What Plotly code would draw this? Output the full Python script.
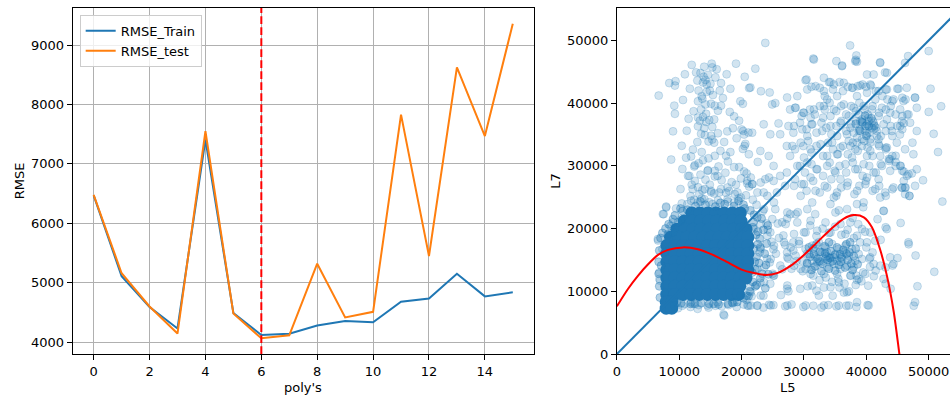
import plotly.graph_objects as go

# ---------------- left panel: RMSE vs polynomial degree ----------------
poly_degree = [0, 1, 2, 3, 4, 5, 6, 7, 8, 9, 10, 11, 12, 13, 14, 15]
rmse_train = [6470, 5110, 4590, 4230, 7410, 4490, 4120, 4140, 4280, 4355, 4335, 4680, 4735, 5150, 4770, 4840]
rmse_test = [6480, 5160, 4600, 4145, 7550, 4480, 4065, 4115, 5320, 4415, 4510, 7830, 5450, 8625, 7470, 9360]
best_degree = 6

left_x_ticks = [0, 2, 4, 6, 8, 10, 12, 14]
left_y_ticks = [4000, 5000, 6000, 7000, 8000, 9000]

# ---------------- right panel: L5 vs L7 ----------------
right_ticks = [0, 10000, 20000, 30000, 40000, 50000]
right_tick_text = ["0", "10000", "20000", "30000", "40000", "50000"]

# scattered observations (L5, L7)
sparse_points = [
    # upper left spread
    (6700, 41200), (9400, 43500), (9300, 42800), (9200, 39600), (9300, 38300), (11500, 37500),
    (12700, 44900), (13900, 44200), (14200, 43700), (13800, 43300), (14400, 43000), (15000, 43100),
    (15200, 46300), (15300, 45700), (16000, 45400), (16700, 43200), (13100, 42000), (13600, 41100),
    (13700, 40700), (14900, 42000), (16500, 42000), (15100, 39900), (15700, 39600), (16700, 39600),
    (13500, 39000), (14300, 38300), (13800, 37800), (13000, 37700), (13300, 37200), (14300, 37000),
    (14800, 37300), (15600, 37400), (13000, 36300), (14100, 34900), (15100, 34800), (15300, 34200),
    (14700, 33900), (15600, 33700), (12900, 33800), (11100, 31300), (11900, 31500), (12500, 30100),
    (13100, 30400), (12400, 29900), (11400, 28400), (14600, 29300), (15700, 29200), (16300, 29900),
    (15700, 28300), (15700, 31600), (17700, 35500), (18600, 36000), (20000, 35800), (20400, 35000),
    (20600, 33500), (20200, 32700), (21100, 35300), (17500, 31600), (17800, 30700), (18200, 32200),
    (18800, 29800), (19600, 29800), (20400, 29100), (20800, 28800), (19100, 46300), (20500, 44200),
    (21200, 42400), (19800, 40300), (20200, 39900), (18800, 37900),
    (13400, 44800), (14600, 44500), (14000, 45800), (12900, 43600), (15800, 44100), (14400, 41800),
    (15400, 41300), (13000, 40300), (14200, 39800), (16200, 38800), (12300, 38700), (14000, 36000),
    (15300, 36200), (13500, 35100), (16200, 35200), (12200, 32600), (13600, 32200), (14700, 31200),
    (16600, 32400), (13800, 30900), (12000, 27000), (13400, 28600), (14200, 27800), (16800, 27700),
    (17400, 28900), (18400, 27400), (19900, 28000), (10500, 29500), (10200, 26300), (9000, 35500),
    (10400, 33200), (11200, 35600), (8700, 31000), (17200, 33800), (19200, 34400), (18100, 38600),
    (19600, 37200), (17000, 40800), (18200, 42300), (17600, 44600), (10600, 40500), (11700, 42300),
    (10900, 44600), (8400, 43200), (12000, 46100),
    # fringe around the main cluster
    (12500, 27600), (13000, 26600), (13700, 26100), (14100, 26300), (14900, 27000), (15100, 25800),
    (15600, 25600), (16700, 26300), (17500, 25700), (18000, 26000), (19100, 27000), (20900, 27200),
    (21200, 26700), (11800, 25200), (12400, 24600), (13600, 24800), (16200, 24500), (17800, 24300),
    (19500, 24800), (20700, 25300), (10400, 24000), (11300, 23900), (18900, 25500), (14800, 24200),
    (9500, 23200), (7900, 23500), (7500, 22300), (6600, 18100), (8200, 19000), (9000, 19400),
    (9800, 21000), (10300, 21500), (7300, 16700), (7100, 14100), (6900, 11700), (6800, 13000),
    (8600, 20400), (22400, 23800), (21800, 24600),
    (11620, 28400), (14550, 29200), (16150, 28400), (21470, 28140), (21730, 27080), (23060, 27340),
    (24390, 28140), (12150, 26280), (13220, 25490), (15080, 26020), (16410, 25750), (17740, 26550),
    (19340, 25750), (11890, 24430), (12950, 24160), (14020, 24690), (15350, 23900), (17740, 24690),
    (18810, 24160), (19870, 24950), (7900, 23370), (7370, 22310), (8960, 20980), (10290, 21250),
    (6570, 18330), (8170, 19120), (22530, 25750), (24130, 25220), (25190, 24160), (23590, 23100),
    (24920, 21510), (23060, 20710), (21990, 19920), (24130, 18860), (25190, 17270), (23060, 16740),
    (24660, 15150), (22530, 13560), (25190, 12500), (23590, 11440), (21470, 9850), (19870, 9320),
    (23060, 9320), (24660, 7730), (21470, 7730), (17210, 6140), (18810, 8260), (16150, 8260),
    (14550, 7730), (11890, 8260), (7630, 16210), (7100, 14090), (6840, 11970), (7630, 9850),
    (9230, 7730), (10830, 7990), (12950, 7200), (20940, 7730), (22530, 7730), (24390, 7840),
    (10500, 7700), (11800, 7500), (13100, 7800), (14700, 7400), (15800, 7700), (16800, 7600),
    (17900, 7800), (19200, 7500), (20300, 7900), (21100, 7700), (17100, 6300), (9800, 7300),
    (12200, 8000), (18600, 8100), (21600, 9200), (20800, 8600),
    # between the two lower clusters
    (25400, 23100), (26500, 21000), (27800, 22300), (24600, 19400), (26700, 18900), (28300, 17800),
    (25100, 16700), (27300, 16200), (24100, 15200), (26200, 14100), (28000, 13600), (25100, 12500),
    (23000, 11400), (21400, 10700), (23500, 9300), (24600, 11200), (27300, 10400), (23400, 22800),
    (24000, 20800), (23600, 13800), (22900, 16200), (24800, 17900),
    # bottom row
    (22500, 7700), (23500, 7400), (25100, 7800), (27000, 7600), (28000, 7900), (29900, 7500),
    (31500, 7700), (32800, 7400), (33900, 7800), (35200, 7600), (36800, 7700), (38400, 7500),
    (40200, 7800), (47600, 7700),
    # middle cluster
    (28300, 16500), (28800, 14800), (29200, 18000), (29800, 13200), (30000, 19400), (30500, 16000),
    (31000, 20500), (31500, 12500), (32000, 18800), (32500, 11800), (33000, 20000), (33500, 12200),
    (34000, 19300), (34500, 11500), (35000, 20300), (35500, 12000), (36000, 19000), (36500, 11200),
    (37000, 19800), (37500, 12500), (38000, 18500), (38500, 11800), (39000, 17800), (39500, 13000),
    (40000, 17000), (40500, 15200), (41000, 16200), (40600, 13900), (41200, 12400), (39800, 19500),
    (38700, 20700), (27500, 15200), (27000, 17400), (26500, 13500), (26000, 18500), (25500, 16000),
    (25000, 12800), (24500, 14600), (24200, 19800), (25800, 20800), (27300, 21600), (29000, 22600),
    (31800, 22300), (35600, 22900), (37800, 21700), (39500, 23400), (30600, 10800), (32000, 10100),
    (33200, 10600), (34600, 9300), (35700, 10600), (36400, 9800), (37200, 10000), (38300, 11000),
    (29400, 10400), (27500, 10000), (26300, 9400), (38400, 12500), (39200, 11600), (40300, 10900),
    (27330, 22570), (28660, 22300), (30530, 23100), (31320, 24160), (34250, 23900), (35050, 22570),
    (36910, 23100), (38510, 23900), (39570, 24160), (27070, 20710), (28930, 20980), (31060, 21250),
    (33450, 20980), (35850, 20710), (37440, 20980), (39300, 19920), (40630, 19390), (28400, 19130),
    (30260, 19390), (32120, 19660), (34250, 19390), (36640, 19130), (38510, 18860), (40100, 17800),
    (41430, 18060), (42760, 22840), (43290, 19920),
    (26800, 17800), (27870, 17000), (29200, 17540), (30260, 16740), (31320, 17270), (32390, 17800),
    (33450, 17000), (34520, 17540), (35580, 16740), (36640, 17270), (37710, 16740), (38770, 15950),
    (27330, 15410), (28660, 15680), (29730, 14880), (30790, 15950), (31860, 15410), (32920, 16210),
    (33980, 15410), (35050, 15950), (36110, 15150), (37180, 15680), (38240, 14880), (39300, 15150),
    (28400, 14090), (29460, 13560), (30530, 14360), (31590, 13820), (32650, 14620), (33720, 13820),
    (34780, 14360), (35850, 13560), (36910, 14090), (37970, 13820), (31060, 12770), (33190, 12770),
    (35310, 12770), (37440, 12500), (32390, 16210), (34250, 14620), (33450, 15150), (32120, 14620),
    (35310, 14880), (36380, 16210), (31320, 14880), (30260, 13560), (33720, 16210), (34780, 15410),
    (27330, 10910), (31320, 10910), (34250, 10650), (35580, 11440), (36910, 9850), (38770, 11970),
    (39840, 12770), (41170, 14360), (42230, 14090), (43830, 15410), (27330, 7730), (30260, 7730),
    (32390, 9320), (33190, 7730), (35580, 7730), (37180, 7730), (38510, 8260), (40370, 7730),
    (44360, 14360), (46750, 17800), (47820, 8260), (42760, 11970), (40630, 15410),
    # right side
    (42800, 22800), (45500, 20900), (43100, 20200), (46800, 17500), (47900, 15700), (45000, 15300),
    (44200, 14100), (43100, 13800), (41500, 13300), (50900, 13100), (48200, 10800), (43900, 10400),
    (43100, 11200), (52200, 24300), (41800, 21500), (42300, 18200),
    # upper right cluster and surroundings
    (23800, 49600), (31500, 47100), (37400, 49200), (38400, 47600), (38300, 46900), (38500, 46600),
    (35200, 46700), (36100, 45900), (42200, 46500), (46700, 47500), (50000, 48300), (43000, 44900),
    (22200, 45500), (21400, 42500), (23100, 41900), (24500, 41700), (24900, 39800), (25400, 40000),
    (27300, 40900), (47800, 40900), (50300, 42300), (52000, 39500), (50000, 38600), (50800, 35100),
    (51500, 32200), (47400, 33700), (49100, 27700), (46000, 36800), (45700, 37100), (45400, 35000),
    (43100, 32900), (43600, 31100), (44700, 31600), (44700, 30600), (45500, 30000), (46000, 29100),
    (46500, 28400), (47300, 28800), (46000, 27600), (45700, 26500), (46200, 26500), (46900, 25200),
    (30420, 43770), (31210, 42600), (32540, 42440), (33330, 41120), (34020, 43350), (34650, 42180),
    (35710, 43350), (36240, 41920), (37030, 42600), (37830, 42440), (38620, 42710), (39410, 42980),
    (39940, 42600), (40740, 42820), (41530, 41920), (42590, 41120), (43380, 40590), (44170, 40330),
    (44970, 42290), (45760, 40860), (46290, 40590), (43120, 42180),
    (27780, 38980), (28570, 39260), (29890, 38470), (30950, 38980), (31740, 38200), (32540, 39530),
    (33330, 38980), (34120, 40060), (35180, 38730), (35970, 39530), (36770, 38200), (37560, 39530),
    (38360, 38730), (38880, 40060), (39680, 38980), (40210, 38200), (41000, 39530), (42060, 38470),
    (43120, 38980), (43910, 39530), (44700, 38200), (45760, 37940), (46550, 38200), (29630, 37940),
    (33070, 37680),
    (23540, 36620), (25920, 36770), (27510, 36350), (28300, 35290), (29360, 36880), (30420, 35820),
    (31210, 36620), (32010, 35290), (32800, 36880), (33590, 36080), (34390, 35030), (35180, 36350),
    (35970, 37150), (36770, 35560), (37560, 36620), (38360, 37150), (38880, 35820), (39410, 36880),
    (39940, 36350), (40470, 35290), (41000, 37150), (41530, 36080), (42320, 34760), (43120, 35560),
    (43910, 36350), (44970, 36350), (45760, 35820), (44170, 34760), (26190, 35030), (24600, 35030),
    (27250, 33170), (28570, 32640), (29890, 33170), (30680, 33960), (31210, 32110), (32010, 33170),
    (33070, 31580), (33860, 33700), (34650, 32640), (35450, 31850), (36240, 33170), (37030, 31850),
    (37830, 33700), (38620, 32380), (39680, 33960), (40210, 32910), (41000, 31580), (42060, 33170),
    (43120, 32640), (44170, 31580), (27780, 31580), (23010, 32380), (21160, 31850), (20470, 33170),
    (24340, 31580),
    (29360, 29990), (30160, 28930), (31210, 30260), (32010, 29460), (33070, 28400), (34120, 30520),
    (34920, 29200), (35710, 29990), (36770, 28930), (37830, 30520), (38620, 29460), (39410, 28400),
    (40470, 29990), (41530, 28930), (42320, 30260), (43650, 30780), (44700, 29990), (45760, 29200),
    (25130, 29990), (22590, 30630), (27250, 28930), (28570, 27870), (26190, 28400),
    (29630, 27080), (30420, 26020), (31480, 27600), (32540, 25750), (33330, 26810), (34390, 27870),
    (35180, 25220), (35970, 26550), (37030, 27340), (38090, 25490), (38880, 26810), (39940, 27600),
    (41000, 26020), (42060, 26810), (43120, 25220), (44170, 26280), (20900, 27600), (23810, 27870),
    (21690, 27080), (25130, 27600), (23540, 25750), (25660, 25750), (26980, 26810), (45760, 26550),
    (46290, 26550), (46920, 25220), (20260, 35560), (21690, 35290),
    (31590, 46950), (36120, 46000), (38240, 46690), (42230, 46420), (46220, 46420), (40110, 44560),
    (41170, 44560), (43300, 44830), (30260, 43660), (33190, 44040), (34250, 43350),
    (30530, 42180), (31860, 42710), (33190, 41920), (34790, 42980), (36380, 43240), (37710, 42450),
    (39040, 42820), (40640, 42980), (41970, 41920), (43300, 42180), (45160, 42290), (46490, 42450),
    (47820, 40860), (33720, 40590), (35320, 41120), (38510, 41120), (40110, 41650), (41440, 40590),
    (44360, 40590), (45960, 40330), (28930, 41120),
    (28670, 39260), (30000, 38470), (31590, 39000), (33190, 39530), (34790, 39000), (36380, 39800),
    (37980, 39260), (39570, 39530), (40900, 39000), (42500, 39260), (43830, 38470), (45430, 39000),
    (46760, 38200), (48090, 39260), (31060, 37680), (34250, 37940), (37180, 37940), (38780, 38210),
    (40370, 37680), (41970, 37940), (43300, 37410),
    (28400, 36350), (29730, 35820), (31330, 36620), (32920, 35560), (34250, 36350), (35850, 36880),
    (37450, 36080), (39040, 37150), (40110, 36620), (41170, 35820), (42770, 36620), (44100, 35560),
    (45430, 36350), (47020, 36880), (48090, 35560), (30530, 34760), (35320, 34760), (36910, 35030),
    (38510, 34500), (39840, 35560), (41700, 34760), (40640, 34230),
    (28140, 33170), (29470, 33700), (31060, 32640), (32660, 33440), (34520, 33700), (35850, 32910),
    (37180, 33970), (38240, 32640), (39310, 33170), (40640, 32380), (41970, 33440), (43300, 32910),
    (44890, 33700), (46220, 32640), (47550, 31850), (30000, 31320), (33720, 31580), (35320, 31850),
    (37710, 31320), (40110, 31580), (42230, 31580), (43830, 31050),
    (28930, 29990), (30530, 30520), (32130, 29460), (33720, 29990), (35050, 28930), (36650, 30260),
    (38240, 29460), (39570, 30260), (41170, 28930), (42500, 29990), (43830, 29200), (45430, 29990),
    (46760, 28670), (48090, 29460), (31060, 28140), (35850, 27870), (40110, 28140), (41970, 27870),
    (28400, 26810), (30000, 27080), (31860, 26020), (33720, 26550), (35320, 25750), (36910, 26810),
    (38510, 26020), (39840, 27080), (41440, 26280), (43030, 25750), (44360, 26550), (46220, 25490),
    (47820, 26810), (29470, 25220), (34790, 24960), (42230, 24960),
    (39310, 37410), (40370, 37150), (39840, 36350), (40910, 36080), (38780, 35560), (40110, 35030),
    (41170, 36880), (39310, 34230), (37980, 35290), (40640, 33700), (41700, 35560), (38510, 33700),
    (37450, 33170), (41970, 34230),
]

# heavily overlapping groups (centres of the clusters, edge of the main one)
dense_points = [
    (30500, 14500), (31000, 15500), (31500, 16800), (31800, 14000), (32200, 15200), (32600, 16300),
    (33000, 14400), (33300, 17200), (33600, 15600), (34000, 13600), (34300, 16400), (34600, 14800),
    (35000, 15800), (35300, 17000), (35600, 14200), (36000, 15400), (36300, 16600), (36600, 13800),
    (37000, 15000), (37300, 16200), (37600, 14400), (38000, 15600), (38300, 16800), (31200, 13400),
    (32800, 13200), (35000, 13300), (36800, 17500), (34000, 17800), (32000, 17500), (37800, 13400),
    (33800, 15000), (35800, 15900), (30800, 17000), (37400, 17800), (38600, 14300),
    (32500, 14800), (34200, 15300), (35900, 14700), (33400, 16000), (36800, 16000), (31600, 15900),
    (39300, 37000), (40400, 36300), (39000, 35600), (40800, 37600), (38300, 36700), (41300, 36400),
    (39800, 38000), (40000, 34800),
    (21900, 21000), (22300, 19000), (22600, 17500), (22400, 15500), (22200, 13500), (21800, 11500),
    (21300, 10000), (20500, 23200), (10500, 22800), (9000, 21500), (7800, 20000), (7000, 18500),
    (6900, 9000), (9600, 8200), (12500, 8000), (15500, 8000), (18500, 8200), (20800, 9300),
    (22600, 19500), (23000, 17000), (22800, 14500), (23300, 12800), (22500, 21800), (22200, 10800),
    (22000, 22200), (23200, 21600), (21800, 20200), (23500, 19800), (24200, 20500), (22900, 18400),
    (24000, 17600), (21900, 16800), (23700, 16000), (22100, 14700), (23900, 14200), (21700, 13000),
    (23000, 12100), (24300, 12700), (22400, 11000), (23800, 10500), (21100, 9200),
    (12600, 23600), (14200, 23800), (15800, 23500), (17300, 23900), (18800, 23600), (20300, 23800),
    (21400, 22900), (11300, 23000), (13400, 24300), (16600, 24100), (19500, 24400),
    (8300, 20700), (9300, 22100), (7300, 19300), (10200, 23200),
    (6800, 16500), (6700, 14700), (6700, 12800), (6800, 10800),
    (10300, 8100), (11800, 8000), (13500, 8100), (14800, 8000), (16300, 7900), (17800, 8000),
    (19300, 8300), (20300, 8900),
]

# saturated core of the main cluster, row by row (L7 level, L5 values)
core_rows_l7 = [22500, 21200, 19900, 18600, 17300, 16000, 14700, 13400, 12100, 10800, 9500, 8300, 7300]
core_rows_l5 = [
    [12000, 13300, 14600, 15900, 17200, 18500, 19800],
    [10800, 12100, 13400, 14700, 16000, 17300, 18600, 19900],
    [9600, 10900, 12200, 13500, 14800, 16100, 17400, 18700, 20000, 20700],
    [8600, 9900, 11200, 12500, 13800, 15100, 16400, 17700, 19000, 20300, 21000],
    [8000, 9300, 10600, 11900, 13200, 14500, 15800, 17100, 18400, 19700, 21000],
    [8000, 9300, 10600, 11900, 13200, 14500, 15800, 17100, 18400, 19700, 21000],
    [8000, 9300, 10600, 11900, 13200, 14500, 15800, 17100, 18400, 19700, 21000],
    [8000, 9300, 10600, 11900, 13200, 14500, 15800, 17100, 18400, 19700, 21000],
    [8000, 9300, 10600, 11900, 13200, 14500, 15800, 17100, 18400, 19700, 20700],
    [8000, 9300, 10600, 11900, 13200, 14500, 15800, 17100, 18400, 19700],
    [8000, 9300, 10600, 11900, 13200, 14500, 15800, 17100, 18400, 19500],
    [7900, 8800],
    [7900, 8800],
]

# fitted polynomial curve (L5 -> predicted L7)
fit_l5 = [0, 1800, 3400, 5000, 6600, 8200, 10600, 13000, 15400, 17800, 19900, 22000, 23900, 25700,
          27900, 30000, 32100, 34300, 36400, 38000, 39600, 40900, 42200, 43300, 44400, 45300, 45700]
fit_l7 = [7600, 10400, 12500, 14300, 15800, 16600, 17000, 16700, 15800, 14600, 13500, 12900, 12600, 12900,
          14100, 15800, 17800, 19900, 21600, 22150, 21800, 20200, 16700, 12500, 6700, 0, -3000]

# reference line L7 = L5
identity_l5 = [0, 60000]
identity_l7 = [0, 60000]

BLUE = "#1f77b4"
ORANGE = "#ff7f0e"
FONT = dict(family="DejaVu Sans", size=13, color="#000000")


def rgba(alpha):
    return "rgba(31,119,180,%s)" % alpha


sp_x = [p[0] for p in sparse_points]
sp_y = [p[1] for p in sparse_points]
dn_x = [p[0] for p in dense_points]
dn_y = [p[1] for p in dense_points]
core_x, core_y = [], []
for level, row in zip(core_rows_l7, core_rows_l5):
    for v in row:
        core_x.append(v)
        core_y.append(level)

fig = go.Figure()

fig.add_trace(go.Scatter(x=poly_degree, y=rmse_train, mode="lines", name="RMSE_Train",
                         line=dict(color=BLUE, width=2), xaxis="x", yaxis="y"))
fig.add_trace(go.Scatter(x=poly_degree, y=rmse_test, mode="lines", name="RMSE_test",
                         line=dict(color=ORANGE, width=2), xaxis="x", yaxis="y"))

fig.add_trace(go.Scatter(x=core_x, y=core_y, mode="markers", showlegend=False,
                         marker=dict(color=BLUE, size=13, opacity=1.0, line=dict(width=0)),
                         xaxis="x2", yaxis="y2"))
fig.add_trace(go.Scatter(x=dn_x, y=dn_y, mode="markers", showlegend=False,
                         marker=dict(color=rgba(0.35), size=8, line=dict(color=rgba(0.35), width=1)),
                         xaxis="x2", yaxis="y2"))
fig.add_trace(go.Scatter(x=sp_x, y=sp_y, mode="markers", showlegend=False,
                         marker=dict(color=rgba(0.2), size=8, line=dict(color=rgba(0.2), width=1)),
                         xaxis="x2", yaxis="y2"))
fig.add_trace(go.Scatter(x=identity_l5, y=identity_l7, mode="lines", showlegend=False,
                         line=dict(color=BLUE, width=2), xaxis="x2", yaxis="y2"))
fig.add_trace(go.Scatter(x=fit_l5, y=fit_l7, mode="lines", showlegend=False,
                         line=dict(color="#ff0000", width=2, shape="spline", smoothing=0.8),
                         xaxis="x2", yaxis="y2"))

axis_common = dict(showline=True, linecolor="#000000", linewidth=1, ticks="outside", ticklen=5,
                   tickwidth=1, tickcolor="#000000", zeroline=False, tickfont=FONT)

fig.update_layout(
    width=950, height=398,
    margin=dict(l=0, r=0, t=8, b=44),
    paper_bgcolor="white", plot_bgcolor="white",
    font=FONT,
    xaxis=dict(domain=[69 / 950, 532 / 950], range=[-0.75, 15.75], tickvals=left_x_ticks,
               showgrid=True, gridcolor="#b0b0b0", gridwidth=1, mirror=True, anchor="y",
               **axis_common),
    yaxis=dict(domain=[0, 1], range=[3800, 9625], tickvals=left_y_ticks,
               showgrid=True, gridcolor="#b0b0b0", gridwidth=1, mirror=True, anchor="x",
               **axis_common),
    xaxis2=dict(domain=[615.5 / 950, 1.0], range=[0, 53420], tickvals=right_ticks,
                ticktext=right_tick_text, showgrid=False, mirror=True, anchor="y2",
                **axis_common),
    yaxis2=dict(domain=[0, 1], range=[0, 55170], tickvals=right_ticks,
                ticktext=right_tick_text, showgrid=False, mirror=False, anchor="x2",
                **axis_common),
    legend=dict(x=76 / 950, y=0.98, xanchor="left", yanchor="top",
                bgcolor="rgba(255,255,255,0.8)", bordercolor="#cccccc", borderwidth=1,
                font=FONT, tracegroupgap=0),
    shapes=[dict(type="line", xref="x", yref="y domain", x0=best_degree, x1=best_degree,
                 y0=0, y1=1, line=dict(color="#ff0000", width=2, dash="7.7px,3.3px"))],
    annotations=[
        dict(text="RMSE", x=15.3 / 950, y=0.5, xref="paper", yref="paper", textangle=-90,
             showarrow=False, xanchor="center", yanchor="middle", font=FONT),
        dict(text="poly's", x=300.5 / 950, y=-0.0968, xref="paper", yref="paper",
             showarrow=False, xanchor="center", yanchor="middle", font=FONT),
        dict(text="L7", x=553 / 950, y=0.5, xref="paper", yref="paper", textangle=-90,
             showarrow=False, xanchor="center", yanchor="middle", font=FONT),
        dict(text="L5", x=787.7 / 950, y=-0.0968, xref="paper", yref="paper",
             showarrow=False, xanchor="center", yanchor="middle", font=FONT),
    ],
)

fig.write_html("out.html")
